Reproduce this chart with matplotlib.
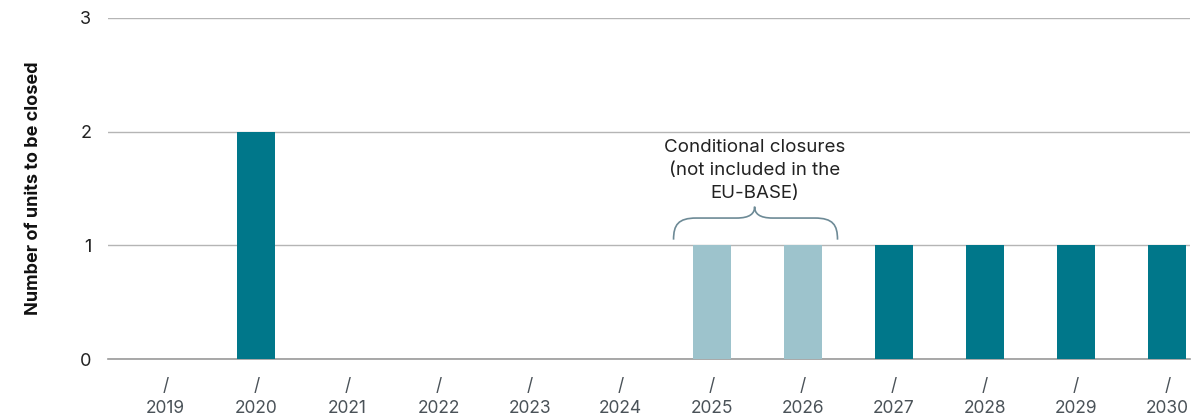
import matplotlib
matplotlib.use('Agg')
import matplotlib.pyplot as plt
from matplotlib.path import Path
from matplotlib.patches import PathPatch

# --- Données ---
annees = ['2019', '2020', '2021', '2022', '2023', '2024',
          '2025', '2026', '2027', '2028', '2029', '2030']
fermetures = [0, 2, 0, 0, 0, 0, 1, 1, 1, 1, 1, 1]
conditionnelles = [False, False, False, False, False, False,
                   True, True, False, False, False, False]

TEAL = '#00778a'
TEAL_CLAIR = '#9dc3cc'
GRIS_TEXTE = '#4a5258'

plt.rcParams['font.family'] = ['Inter', 'DejaVu Sans']

fig = plt.figure(figsize=(11.99, 4.17), dpi=100)
ax = fig.add_axes([0.090, 0.139, 0.9025, 0.818])

x = list(range(len(annees)))
couleurs = [TEAL_CLAIR if c else TEAL for c in conditionnelles]
ax.bar(x, fermetures, width=0.415, color=couleurs, zorder=3)

ax.set_ylim(0, 3)
ax.set_xlim(-0.63, 11.25)
ax.set_yticks([0, 1, 2, 3])
ax.yaxis.grid(True, color='#b5b5b5', linewidth=1.0, zorder=0)
ax.axhline(0, color='#9a9a9a', linewidth=1.2, clip_on=False, zorder=2)
ax.set_axisbelow(True)
for s in ax.spines.values():
    s.set_visible(False)
ax.tick_params(axis='y', length=0, pad=12, labelsize=13, labelcolor='#222222')
ax.tick_params(axis='x', length=0, pad=14, labelsize=12.5, labelcolor=GRIS_TEXTE)
ax.set_xticks(x)
ax.set_xticklabels(['/\n' + a for a in annees], linespacing=1.35)

ax.set_ylabel('Number of units to be closed', fontsize=13, fontweight='bold',
              labelpad=27, color='#111111')

# Accolade au-dessus des fermetures conditionnelles
xg, xd, xm = 5.58, 7.38, 6.47
yb, yh, yp = 1.05, 1.24, 1.34
verts = [(xg, yb), (xg, yh - 0.06), (xg + 0.05, yh), (xg + 0.25, yh),
         (xm - 0.2, yh),
         (xm - 0.05, yh), (xm, yh + 0.04), (xm, yp),
         (xm, yh + 0.04), (xm + 0.05, yh), (xm + 0.2, yh),
         (xd - 0.25, yh),
         (xd - 0.05, yh), (xd, yh - 0.06), (xd, yb)]
codes = [Path.MOVETO, Path.CURVE4, Path.CURVE4, Path.CURVE4,
         Path.LINETO,
         Path.CURVE4, Path.CURVE4, Path.CURVE4,
         Path.CURVE4, Path.CURVE4, Path.CURVE4,
         Path.LINETO,
         Path.CURVE4, Path.CURVE4, Path.CURVE4]
ax.add_patch(PathPatch(Path(verts, codes), facecolor='none',
                       edgecolor='#6d8a96', linewidth=1.2, zorder=4))

ax.text(xm, 1.66, 'Conditional closures\n(not included in the\nEU-BASE)',
        ha='center', va='center', fontsize=13.5, color='#222222',
        linespacing=1.45)

fig.savefig('out.png', dpi=100)
